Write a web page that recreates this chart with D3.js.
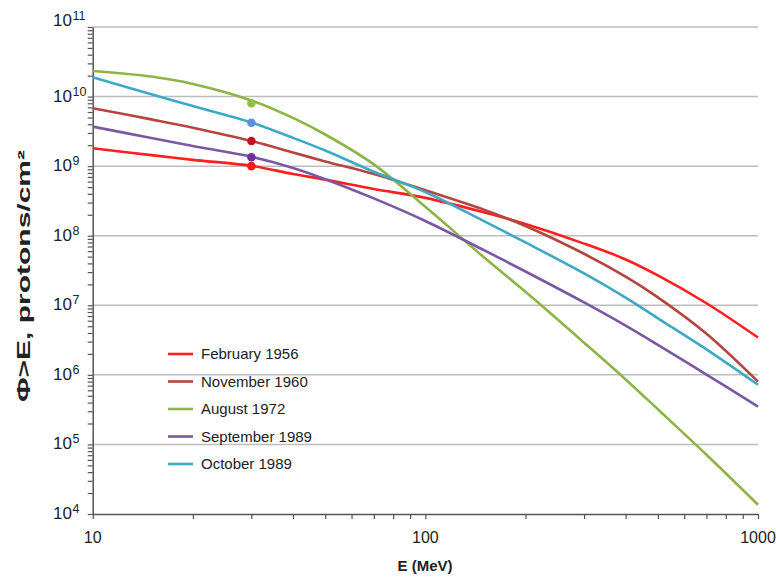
<!DOCTYPE html>
<html>
<head>
<meta charset="utf-8">
<script src="https://cdn.jsdelivr.net/npm/d3@7/dist/d3.min.js"></script>
<style>
  html, body { margin: 0; padding: 0; background: #ffffff; }
  svg { display: block; }
  text { font-family: "Liberation Sans", Arial, sans-serif; fill: #222; }
</style>
</head>
<body>
<svg id="chart" width="777" height="579"></svg>
<script>
// ---------------- data ----------------
const energies = [10, 15, 20, 30, 40, 50, 70, 100, 150, 200, 300, 400, 500, 700, 1000]; // MeV
const seriesNames = ["February 1956", "November 1960", "August 1972", "September 1989", "October 1989"];
const feb1956 = [1.81e9, 1.44e9, 1.23e9, 1.01e9, 7.7e8, 6.4e8, 4.7e8, 3.5e8, 2.17e8, 1.47e8, 7.7e7, 4.56e7, 2.69e7, 1.07e7, 3.44e6];
const nov1960 = [6.8e9, 4.7e9, 3.57e9, 2.3e9, 1.57e9, 1.17e9, 7.7e8, 4.5e8, 2.37e8, 1.38e8, 5.5e7, 2.58e7, 1.3e7, 3.9e6, 8.0e5];
const aug1972 = [2.33e10, 1.94e10, 1.52e10, 8.8e9, 4.93e9, 2.85e9, 1.06e9, 2.6e8, 4.9e7, 1.56e7, 2.9e6, 8.6e5, 3.2e5, 7.1e4, 1.36e4];
const sep1989 = [3.7e9, 2.54e9, 1.95e9, 1.36e9, 9.4e8, 6.5e8, 3.44e8, 1.63e8, 6.2e7, 3.06e7, 1.1e7, 5.1e6, 2.7e6, 1.01e6, 3.5e5];
const oct1989 = [1.89e10, 1.08e10, 7.3e9, 4.25e9, 2.55e9, 1.68e9, 8.3e8, 4.25e8, 1.62e8, 8.0e7, 2.87e7, 1.29e7, 6.5e6, 2.32e6, 7.2e5];
// marked points at 30 MeV
const dotEnergy = 30;
const dotValues = [1.0e9, 2.3e9, 8.0e9, 1.34e9, 4.2e9];
// axis ticks
const yTickExponents = [4, 5, 6, 7, 8, 9, 10, 11];
const xTickLabels = [10, 100, 1000];
const xTitle = "E (MeV)";
const yTitle = "\u03A6>E, protons/cm\u00B2";

// ---------------- styles ----------------
const lineColors = ["#FF1F1F", "#B5463F", "#8DB446", "#7A58A4", "#3EA9C5"];
const dotColors = ["#FF1A1A", "#C0141E", "#92C046", "#7030A0", "#5B93DB"];
const allSeries = [feb1956, nov1960, aug1972, sep1989, oct1989];

const svg = d3.select("#chart");
const x = d3.scaleLog().domain([10, 1000]).range([92.7, 758]);
const y = d3.scaleLog().domain([1e4, 1e11]).range([514, 27]);

// gridlines
svg.append("g").selectAll("line")
  .data(yTickExponents.slice(1))
  .join("line")
  .attr("x1", x(10)).attr("x2", x(1000))
  .attr("y1", d => y(Math.pow(10, d))).attr("y2", d => y(Math.pow(10, d)))
  .attr("stroke", "#BDBDBD").attr("stroke-width", 1.5);

// minor tick values
function minorTicks(lo, hi) {
  const out = [];
  for (let e = lo; e < hi; e++) for (let m = 1; m < 10; m++) out.push(m * Math.pow(10, e));
  out.push(Math.pow(10, hi));
  return out;
}

// y axis
const yAxis = svg.append("g")
  .attr("transform", `translate(${x(10)},0)`)
  .call(d3.axisLeft(y).tickValues(minorTicks(4, 11)).tickSize(5).tickSizeOuter(0).tickFormat(""));
yAxis.select(".domain").attr("stroke", "#555").attr("stroke-width", 1.5);
yAxis.selectAll(".tick line").attr("stroke", "#555").attr("stroke-width", 1.2);

// x axis
const xAxis = svg.append("g")
  .attr("transform", `translate(0,${y(1e4)})`)
  .call(d3.axisBottom(x).tickValues(minorTicks(1, 3)).tickSize(5).tickSizeOuter(0).tickFormat(""));
xAxis.select(".domain").attr("stroke", "#555").attr("stroke-width", 1.5);
xAxis.selectAll(".tick line").attr("stroke", "#555").attr("stroke-width", 1.2);

// y tick labels (10 with superscript exponent)
svg.append("g").selectAll("text")
  .data(yTickExponents)
  .join("text")
  .attr("x", 72)
  .attr("y", d => y(Math.pow(10, d)) + (d === 11 ? -1 : 5))
  .attr("text-anchor", "end")
  .attr("font-size", 17)
  .text("10");
svg.append("g").selectAll("text")
  .data(yTickExponents)
  .join("text")
  .attr("x", 72.5)
  .attr("y", d => y(Math.pow(10, d)) + (d === 11 ? -7 : -1))
  .attr("font-size", 12.5)
  .text(d => d);

// x tick labels
svg.append("g").selectAll("text")
  .data(xTickLabels)
  .join("text")
  .attr("x", d => x(d))
  .attr("y", 543)
  .attr("text-anchor", "middle")
  .attr("font-size", 16)
  .text(d => d);

// axis titles
svg.append("text")
  .attr("x", 425).attr("y", 571)
  .attr("text-anchor", "middle")
  .attr("font-size", 15).attr("font-weight", "bold")
  .text(xTitle);
svg.append("text")
  .attr("transform", "translate(30,276) rotate(-90)")
  .attr("text-anchor", "middle")
  .attr("font-size", 18).attr("font-weight", "bold")
  .attr("textLength", 252)
  .attr("lengthAdjust", "spacingAndGlyphs")
  .text(yTitle);

// lines
const line = d3.line()
  .x(d => x(d[0])).y(d => y(d[1]))
  .curve(d3.curveCatmullRom.alpha(0.5));
svg.append("g").selectAll("path")
  .data(allSeries)
  .join("path")
  .attr("d", s => line(energies.map((e, i) => [e, s[i]])))
  .attr("fill", "none")
  .attr("stroke", (s, i) => lineColors[i])
  .attr("stroke-width", 2.6)
  .attr("stroke-linejoin", "round");

// dots at 30 MeV
svg.append("g").selectAll("circle")
  .data(dotValues)
  .join("circle")
  .attr("cx", x(dotEnergy))
  .attr("cy", d => y(d))
  .attr("r", 4.3)
  .attr("fill", (d, i) => dotColors[i]);

// legend
const leg = svg.append("g").selectAll("g")
  .data(seriesNames)
  .join("g")
  .attr("transform", (d, i) => `translate(168,${354 + i * 27.5})`);
leg.append("line")
  .attr("x1", 0).attr("x2", 25)
  .attr("stroke", (d, i) => lineColors[i])
  .attr("stroke-width", 2.6);
leg.append("text")
  .attr("x", 33).attr("y", 5)
  .attr("font-size", 15)
  .text(d => d);
</script>
</body>
</html>
